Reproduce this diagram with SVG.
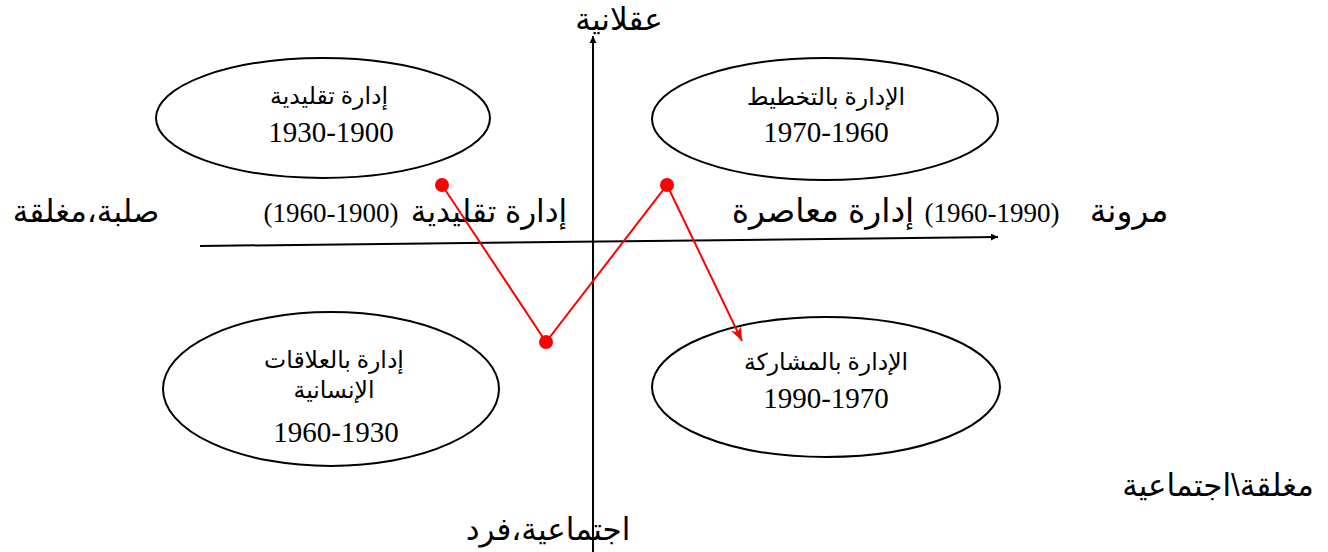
<svg xmlns="http://www.w3.org/2000/svg" width="1328" height="552" viewBox="0 0 1328 552">
<style>
.ell{fill:none;stroke:#000;stroke-width:2}
.ax{stroke:#000;stroke-width:2;fill:none}
.red{stroke:#ff0000;stroke-width:2;fill:none}
.dot{fill:#ff0000}
.lbl{font-family:"Liberation Sans","DejaVu Sans",sans-serif;font-size:31px;fill:#000;text-anchor:middle}
.num{font-family:"Liberation Serif","DejaVu Serif",serif;font-size:27px;fill:#000;text-anchor:middle}
.etx{font-family:"Liberation Serif","DejaVu Sans",serif;font-size:23.5px;fill:#000;text-anchor:middle}
.enum{font-family:"Liberation Serif",serif;font-size:29px;fill:#000;text-anchor:middle}
</style>
<defs>
<marker id="ahb" viewBox="0 0 10 10" refX="10" refY="5" markerWidth="7" markerHeight="7" orient="auto" markerUnits="userSpaceOnUse">
<path d="M0,0 L10,5 L0,10 z" fill="#000"/>
</marker>
<marker id="ahr" viewBox="0 0 10 10" refX="10" refY="5" markerWidth="14" markerHeight="14" orient="auto" markerUnits="userSpaceOnUse">
<path d="M0,1 L10,5 L0,9 L3,5 z" fill="#ff0000"/>
</marker>
</defs>
<rect width="1328" height="552" fill="#fff"/>

<g id="axes">
<line class="ax" x1="593" y1="552" x2="593" y2="36" marker-end="url(#ahb)"/>
<line class="ax" x1="200" y1="246" x2="998" y2="237" marker-end="url(#ahb)"/>
</g>

<g id="node-traditional">
<ellipse class="ell" cx="323" cy="118" rx="167" ry="60"/>
<text class="etx" x="329" y="104">إدارة تقليدية</text>
<text class="enum" x="331" y="142">1930-1900</text>
</g>

<g id="node-planning">
<ellipse class="ell" cx="825" cy="119" rx="173" ry="61"/>
<text class="etx" x="826" y="105">الإدارة بالتخطيط</text>
<text class="enum" x="826" y="142">1970-1960</text>
</g>

<g id="node-human-relations">
<ellipse class="ell" cx="331" cy="389" rx="168" ry="77"/>
<text class="etx" x="334" y="368">إدارة بالعلاقات</text>
<text class="etx" x="334" y="398">الإنسانية</text>
<text class="enum" x="336" y="442">1960-1930</text>
</g>

<g id="node-participation">
<ellipse class="ell" cx="826" cy="387" rx="174" ry="70"/>
<text class="etx" x="826" y="370">الإدارة بالمشاركة</text>
<text class="enum" x="826" y="408">1990-1970</text>
</g>

<g id="labels">
<text class="lbl" x="619" y="30">عقلانية</text>
<text class="lbl" x="548" y="540">اجتماعية،فرد</text>
<text class="lbl" x="86" y="222">صلبة،مغلقة</text>
<text class="lbl" x="1218" y="496">مغلقة\اجتماعية</text>
<text class="lbl" x="489" y="222">إدارة تقليدية</text>
<text class="num" x="331" y="222">(1960-1900)</text>
<text class="lbl" x="823" y="222" style="font-size:33px">إدارة معاصرة</text>
<text class="num" x="992" y="222">(1960-1990)</text>
<text class="lbl" x="1129" y="222" style="font-size:33px">مرونة</text>
</g>

<g id="connectors">
<polyline class="red" points="442,185 546,342 667,185 742,341" marker-end="url(#ahr)"/>
<circle class="dot" cx="442" cy="185" r="7"/>
<circle class="dot" cx="546" cy="342" r="7"/>
<circle class="dot" cx="667" cy="185" r="7"/>
</g>
</svg>
